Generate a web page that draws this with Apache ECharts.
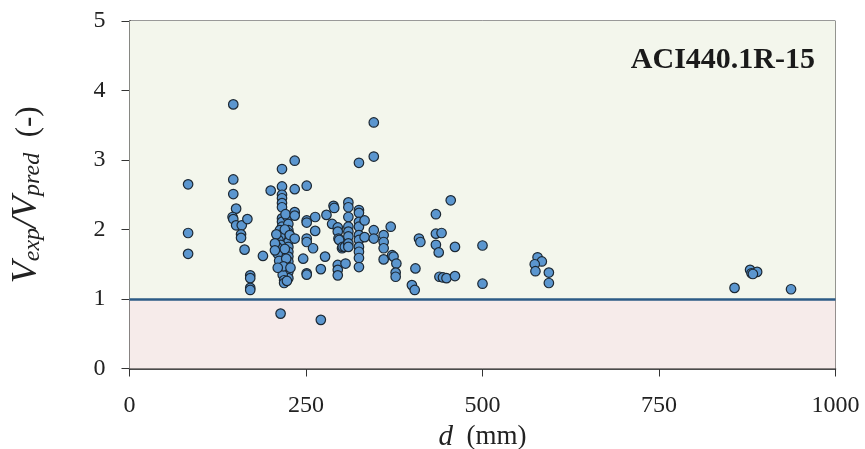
<!DOCTYPE html>
<html>
<head>
<meta charset="utf-8">
<script src="https://cdn.jsdelivr.net/npm/echarts@6/dist/echarts.min.js"></script>
<style>html,body{margin:0;padding:0;background:#fff}#chart{width:865px;height:449px}</style>
</head>
<body>
<div id="chart"></div>
<script>
// Effective depth d (mm)
const depthMm = [
  83, 83, 83,
  147, 147, 147, 151, 146, 147, 151, 159, 167, 158, 158, 163, 171, 171, 171, 171,
  189, 200, 214,
  216, 216, 216, 216, 216, 216, 216, 216, 216,
  224,
  225, 225, 225, 225, 225, 225, 225, 225, 225, 225, 225, 225,
  213, 214, 211, 214, 209, 214, 214, 216, 217, 219, 219,
  208, 206, 210, 212, 220, 222, 220, 218, 223, 221, 227, 228, 206, 210,
  234, 234, 234, 234, 234,
  246,
  251, 251, 251, 251, 251, 251, 251,
  263, 263, 260, 277, 271, 271,
  279, 289, 290, 287, 295, 295, 296, 297, 301, 302, 295, 295, 295, 306, 305,
  310, 310, 310, 310, 310, 310, 310, 310,
  325, 325, 325, 325, 325, 325, 325, 325, 325, 325, 325,
  333, 333,
  346, 346, 346, 346,
  360, 360, 360, 360,
  370, 372, 374, 378, 377, 377,
  400, 404, 405, 410, 412, 434, 434, 442, 434, 438, 455, 461, 439, 444, 449, 461, 500, 500,
  578, 584, 574, 575, 594, 594,
  857, 879, 881, 889, 883, 937
];
// Vexp / Vpred (-)
const strengthRatio = [
  2.65, 1.95, 1.65,
  3.80, 2.72, 2.51, 2.30, 2.18, 2.15, 2.06, 2.06, 2.15, 1.93, 1.88, 1.71, 1.34, 1.30, 1.16, 1.13,
  1.62, 2.56, 0.79,
  2.87, 2.62, 2.50, 2.45, 2.38, 2.32, 2.16, 2.11, 2.04,
  2.18,
  2.08, 1.99, 1.95, 1.89, 1.82, 1.75, 1.68, 1.61, 1.54, 1.46, 1.39, 1.30,
  1.99, 1.90, 1.85, 1.78, 1.75, 1.61, 1.51, 1.42, 1.35, 1.27, 1.23,
  1.93, 1.80, 1.65, 1.55, 1.72, 1.58, 2.00, 1.47, 1.26, 2.22, 1.92, 1.45, 1.70, 1.45,
  2.99, 2.58, 2.25, 2.20, 1.87,
  1.58,
  2.63, 2.13, 2.10, 1.87, 1.82, 1.37, 1.35,
  2.18, 1.98, 1.73, 1.61, 1.43, 0.70,
  2.21, 2.34, 2.31, 2.08, 2.03, 1.97, 1.87, 1.85, 1.73, 1.75, 1.49, 1.42, 1.34, 1.51, 1.75,
  2.39, 2.32, 2.18, 2.04, 1.97, 1.90, 1.80, 1.75,
  2.96, 2.28, 2.24, 2.11, 2.04, 1.92, 1.85, 1.75, 1.68, 1.59, 1.46,
  2.13, 1.89,
  3.54, 3.05, 1.99, 1.87,
  1.92, 1.82, 1.73, 1.57,
  2.04, 1.63, 1.61, 1.51, 1.38, 1.32,
  1.20, 1.13, 1.44, 1.87, 1.82, 2.22, 1.94, 1.95, 1.78, 1.67, 2.42, 1.75, 1.32, 1.31, 1.30, 1.33, 1.77, 1.22,
  1.60, 1.54, 1.50, 1.40, 1.38, 1.23,
  1.16, 1.42, 1.37, 1.39, 1.36, 1.14
];
const xTicks = [0, 250, 500, 750, 1000];
const yTicks = [0, 1, 2, 3, 4, 5];
const limitRatio = 1;
const codeLabel = 'ACI440.1R-15';

const points = depthMm.map((d, i) => [d, strengthRatio[i]]);
const serif = '"Liberation Serif", "DejaVu Serif", serif';

const chart = echarts.init(document.getElementById('chart'), null, {renderer: 'canvas'});
chart.setOption({
  animation: false,
  backgroundColor: '#ffffff',
  grid: {left: 129.5, right: 29.5, top: 21, bottom: 80.5, containLabel: false, outerBoundsMode: 'none',
         show: true, borderColor: '#333', borderWidth: 1, backgroundColor: 'transparent'},
  xAxis: {
    type: 'value', min: xTicks[0], max: xTicks[xTicks.length - 1], interval: 250,
    axisLine: {show: true, lineStyle: {color: '#111', width: 1.5}},
    axisTick: {show: true, inside: false, length: 8, lineStyle: {color: '#333'}},
    axisLabel: {color: '#222', fontFamily: serif, fontSize: 24, margin: 25, formatter: v => String(v)},
    splitLine: {show: false},
    name: '{i|d}{n|  (mm)}', nameLocation: 'middle', nameGap: 54,
    nameTextStyle: {rich: {
      i: {fontFamily: serif, fontStyle: 'italic', fontSize: 29, color: '#222'},
      n: {fontFamily: serif, fontSize: 27, color: '#222'}
    }}
  },
  yAxis: {
    type: 'value', min: yTicks[0], max: yTicks[yTicks.length - 1], interval: 1,
    axisLine: {show: true, lineStyle: {color: '#111', width: 1.5}},
    axisTick: {show: true, inside: false, length: 8, lineStyle: {color: '#333'}},
    axisLabel: {color: '#222', fontFamily: serif, fontSize: 24, margin: 24},
    splitLine: {show: false},
    name: '{v|V}{s|exp}{v|/V}{s|pred}{n|  (-)}', nameLocation: 'middle', nameGap: 85,
    nameTextStyle: {rich: {
      v: {fontFamily: serif, fontStyle: 'italic', fontSize: 36, color: '#222', verticalAlign: 'bottom', lineHeight: 40},
      s: {fontFamily: serif, fontStyle: 'italic', fontSize: 24, color: '#222', verticalAlign: 'bottom', lineHeight: 30},
      n: {fontFamily: serif, fontSize: 31, color: '#222', verticalAlign: 'bottom', lineHeight: 40}
    }}
  },
  title: {
    text: codeLabel, right: 45, top: 40,
    textStyle: {fontFamily: serif, fontWeight: 'bold', fontSize: 30, color: '#1a1a1a'}
  },
  series: [{
    type: 'scatter',
    data: points,
    symbolSize: 9.5,
    itemStyle: {color: '#5b96cf', borderColor: '#1c2833', borderWidth: 1.2, opacity: 1},
    markArea: {
      silent: true,
      data: [
        [{yAxis: limitRatio, itemStyle: {color: '#f3f6ec'}}, {yAxis: yTicks[yTicks.length - 1]}],
        [{yAxis: yTicks[0], itemStyle: {color: '#f6ebea'}}, {yAxis: limitRatio}]
      ]
    },
    markLine: {
      silent: true, symbol: 'none', label: {show: false},
      lineStyle: {color: '#2c5b86', width: 2.5, type: 'solid'},
      data: [{yAxis: limitRatio}]
    },
    z: 3
  }]
});
</script>
</body>
</html>
